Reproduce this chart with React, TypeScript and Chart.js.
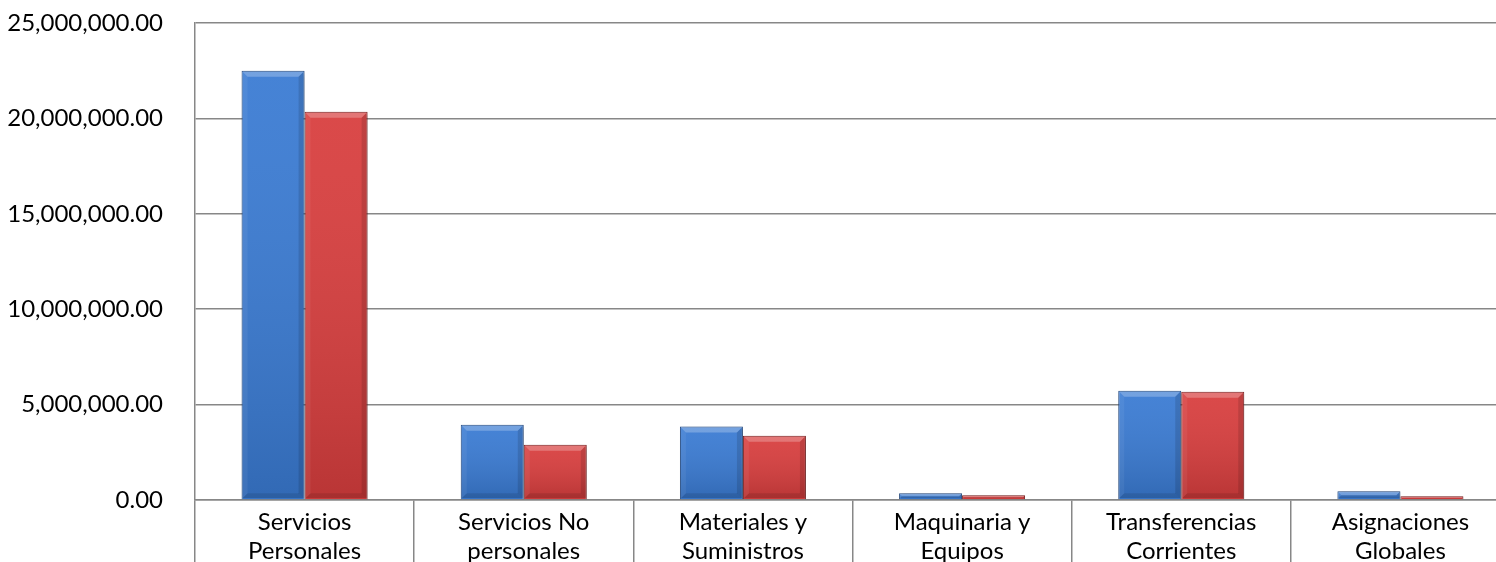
import React, { useEffect, useRef } from "react";
import { Chart, registerables } from "chart.js";

Chart.register(...registerables);

const categories: string[][] = [
  ["Servicios", "Personales"],
  ["Servicios No", "personales"],
  ["Materiales y", "Suministros"],
  ["Maquinaria y", "Equipos"],
  ["Transferencias", "Corrientes"],
  ["Asignaciones", "Globales"],
];

const seriesBlue: number[] = [22500000, 3950000, 3850000, 350000, 5730000, 460000];
const seriesRed: number[] = [20350000, 2900000, 3370000, 250000, 5670000, 190000];

const yMin = 0;
const yMax = 25000000;
const yStep = 5000000;

const GRID = "#878787";

const bevelPlugin = {
  id: "bevel",
  beforeDatasetDraw(chart: any) {
    const ctx = chart.ctx;
    ctx.save();
    ctx.shadowColor = "rgba(0,0,0,0.28)";
    ctx.shadowBlur = 5;
    ctx.shadowOffsetX = 1;
    ctx.shadowOffsetY = 1;
  },
  afterDatasetDraw(chart: any, args: any) {
    const ctx = chart.ctx;
    ctx.restore();
    const meta = args.meta;
    meta.data.forEach((el: any) => {
      const p = el.getProps(["x", "y", "base", "width"], true);
      const left = p.x - p.width / 2 + 1;
      const right = p.x + p.width / 2 - 1;
      const top = Math.min(p.y, p.base) + 1;
      const bottom = Math.max(p.y, p.base) - 1;
      const h = bottom - top;
      const w = right - left;
      if (h <= 0) return;
      ctx.save();
      const g = ctx.createLinearGradient(0, top, 0, bottom);
      g.addColorStop(0, "rgba(255,255,255,0.06)");
      g.addColorStop(1, "rgba(0,0,0,0.14)");
      ctx.fillStyle = g;
      ctx.fillRect(left, top, w, h);
      const b = Math.min(5, h / 2);
      ctx.fillStyle = "rgba(255,255,255,0.25)";
      ctx.beginPath();
      ctx.moveTo(left, top);
      ctx.lineTo(right, top);
      ctx.lineTo(right - b, top + b);
      ctx.lineTo(left + b, top + b);
      ctx.closePath();
      ctx.fill();
      ctx.fillStyle = "rgba(255,255,255,0.06)";
      ctx.beginPath();
      ctx.moveTo(left, top);
      ctx.lineTo(left + b, top + b);
      ctx.lineTo(left + b, bottom - b);
      ctx.lineTo(left, bottom);
      ctx.closePath();
      ctx.fill();
      ctx.fillStyle = "rgba(0,0,0,0.12)";
      ctx.beginPath();
      ctx.moveTo(right, top);
      ctx.lineTo(right - b, top + b);
      ctx.lineTo(right - b, bottom - b);
      ctx.lineTo(right, bottom);
      ctx.closePath();
      ctx.fill();
      ctx.fillStyle = "rgba(0,0,0,0.10)";
      ctx.beginPath();
      ctx.moveTo(left, bottom);
      ctx.lineTo(right, bottom);
      ctx.lineTo(right - b, bottom - b);
      ctx.lineTo(left + b, bottom - b);
      ctx.closePath();
      ctx.fill();
      ctx.restore();
    });
  },
};

function formatNum(v: number): string {
  return Number(v).toLocaleString("en-US", {
    minimumFractionDigits: 2,
    maximumFractionDigits: 2,
  });
}

export default function App() {
  const ref = useRef<HTMLCanvasElement>(null);

  useEffect(() => {
    if (!ref.current) return;
    const chart = new Chart(ref.current, {
      type: "bar",
      data: {
        labels: categories,
        datasets: [
          {
            data: seriesBlue,
            backgroundColor: "#3a7bd3",
            borderColor: "#2a4f85",
            borderWidth: 1,
          },
          {
            data: seriesRed,
            backgroundColor: "#d83e3e",
            borderColor: "#7e2424",
            borderWidth: 1,
          },
        ],
      },
      options: {
        responsive: false,
        animation: false,
        devicePixelRatio: 1,
        layout: { padding: { top: 23, right: 20, left: 0, bottom: 0 } },
        plugins: {
          legend: { display: false },
          tooltip: { enabled: false },
        },
        datasets: {
          bar: { categoryPercentage: 0.575, barPercentage: 1 },
        },
        scales: {
          x: {
            offset: true,
            grid: {
              offset: true,
              drawOnChartArea: false,
              drawTicks: true,
              tickLength: 90,
              color: GRID,
              lineWidth: 1.5,
            },
            border: { display: true, color: GRID, width: 1.5 },
            ticks: {
              padding: -82,
              color: "#000",
              font: { family: "Lato", size: 24 },
              maxRotation: 0,
              autoSkip: false,
            },
            afterFit: (axis: any) => {
              axis.height = 100;
            },
          },
          y: {
            min: yMin,
            max: yMax,
            grid: {
              color: GRID,
              lineWidth: 1.5,
              drawTicks: true,
              tickLength: 32,
              tickColor: "rgba(0,0,0,0)",
            },
            border: { display: true, color: GRID, width: 1.5 },
            ticks: {
              stepSize: yStep,
              padding: 0,
              color: "#000",
              font: { family: "Lato", size: 24 },
              callback: (v: any) => formatNum(v),
            },
            afterFit: (axis: any) => {
              axis.width = 195;
            },
          },
        },
      },
      plugins: [bevelPlugin],
    });
    return () => chart.destroy();
  }, []);

  return (
    <div
      style={{
        position: "fixed",
        left: 0,
        top: 0,
        width: 1496,
        height: 562,
        overflow: "hidden",
        background: "#fff",
      }}
    >
      <canvas ref={ref} width={1530} height={600} style={{ width: 1530, height: 600, display: "block" }} />
    </div>
  );
}
